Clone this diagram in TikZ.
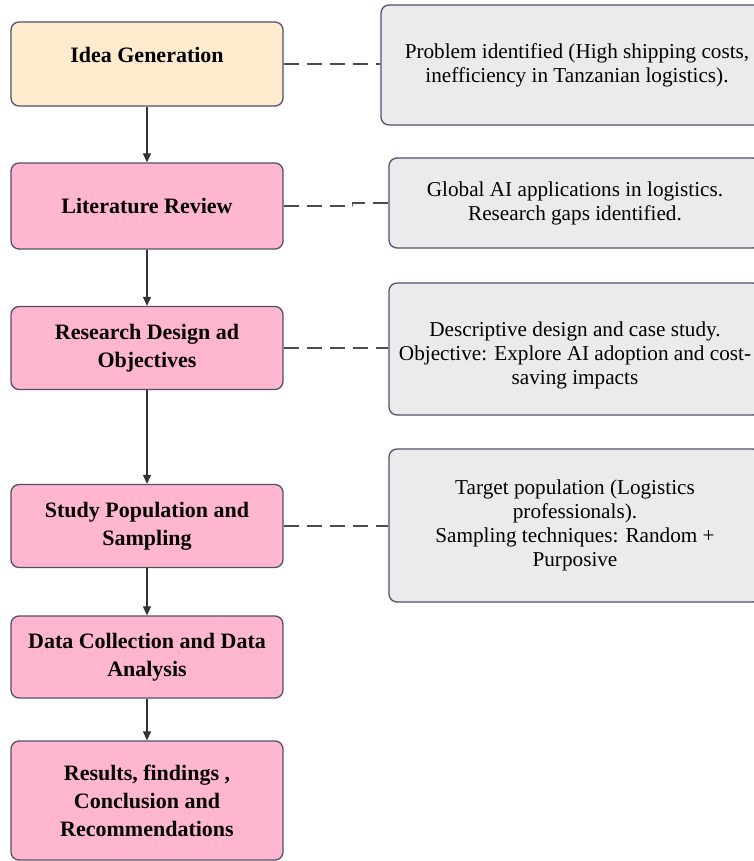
\documentclass[tikz,border=0pt]{standalone}
\usepackage{fontspec}
\setmainfont{Liberation Serif}
\usetikzlibrary{arrows.meta}
\definecolor{stepink}{HTML}{FFB6CE}
\definecolor{ideaorange}{HTML}{FFEBCD}
\definecolor{notegray}{HTML}{EBEBEB}
\definecolor{edgeslate}{HTML}{50506E}
\definecolor{linkgray}{HTML}{333333}
\begin{document}
\begin{tikzpicture}[x=1pt,y=-1pt,
  box/.style={draw=edgeslate,line width=1.3pt,rounded corners=8pt,align=center,inner sep=0pt},
  stepbox/.style={box,fill=stepink,minimum width=272pt,font=\fontsize{22}{28}\selectfont\bfseries},
  notebox/.style={box,fill=notegray,font=\fontsize{21.2}{24}\selectfont},
  flow/.style={linkgray,line width=1.2pt,-{Triangle[width=8pt,length=9pt]}},
  link/.style={draw=black!70,line width=1.4pt,dash pattern=on 15pt off 8pt}]
\useasboundingbox (0,0) rectangle (754,861);
% main steps
\node[stepbox,fill=ideaorange,minimum height=84pt,text depth=18pt] (idea) at (147,64) {Idea Generation};
\node[stepbox,minimum height=86pt] (lit) at (147,206) {Literature Review};
\node[stepbox,minimum height=83pt] (design) at (147,348) {Research Design ad\\Objectives};
\node[stepbox,minimum height=83pt] (pop) at (147,526) {Study Population and\\Sampling};
\node[stepbox,minimum height=82pt] (data) at (147,657) {Data Collection and Data\\Analysis};
\node[stepbox,minimum height=119pt] (res) at (147,800.5) {Results, findings ,\\Conclusion and\\Recommendations};
% notes
\node[notebox,minimum width=392pt,minimum height=120pt] (problem) at (577,65) {Problem identified (High shipping costs,\\inefficiency in Tanzanian logistics).};
\node[notebox,minimum width=372pt,minimum height=90pt] (gaps) at (575,203) {Global AI applications in logistics.\\Research gaps identified.};
\node[notebox,minimum width=372pt,minimum height=132pt] (descr) at (575,349) {\rule{0pt}{27pt}Descriptive design and case study.\\Objective: Explore AI adoption and cost-\\saving impacts};
\node[notebox,minimum width=372pt,minimum height=153pt] (target) at (575,525.5) {Target population (Logistics\\professionals).\\Sampling techniques: Random +\\Purposive};
% arrows
\draw[flow] (idea) -- (lit);
\draw[flow] (lit) -- (design);
\draw[flow] (design) -- (pop);
\draw[flow] (pop) -- (data);
\draw[flow] (data) -- (res);
% dashed links
\draw[link] (idea.east) -- (problem.west |- idea.east);
\draw[link] (lit.east) -- ++(69,0) |- (gaps.west);
\draw[link] (design.east) -- (descr.west |- design.east);
\draw[link] (pop.east) -- (target.west |- pop.east);
\end{tikzpicture}
\end{document}
